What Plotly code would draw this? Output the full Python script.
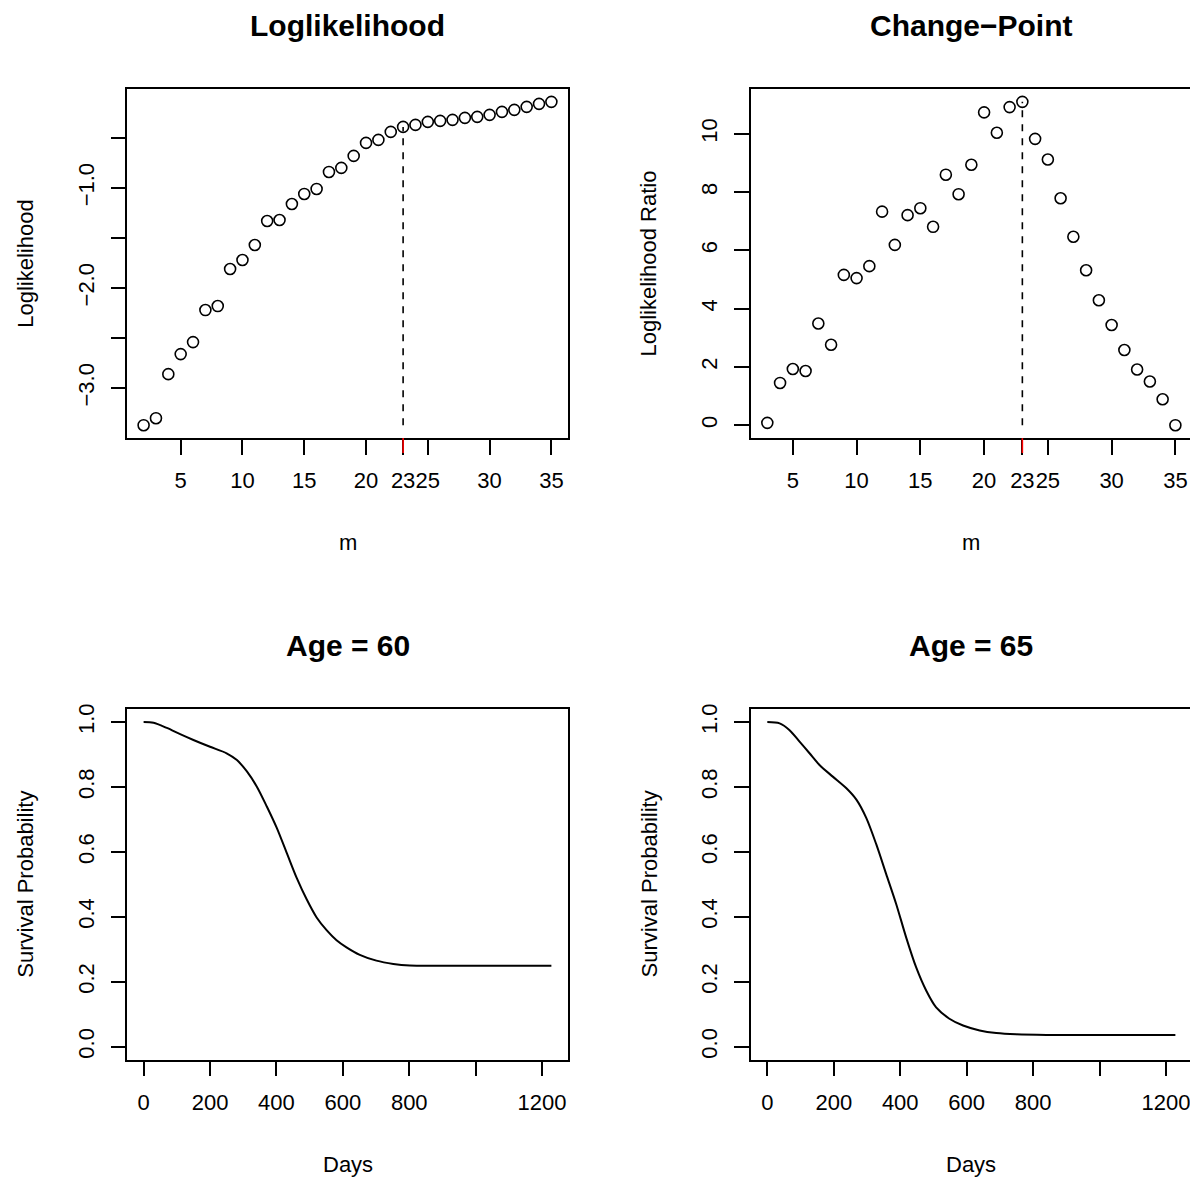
import plotly.graph_objects as go

W, H = 1198, 1182
OFF = 8                     # default body margin of the html page
PW, PH = W - OFF, H - OFF

# ---------------- data ----------------
m_ll = list(range(2, 36))
loglik = [-3.37, -3.30, -2.86, -2.66, -2.54, -2.22, -2.18, -1.81, -1.72, -1.57,
          -1.33, -1.32, -1.16, -1.06, -1.01, -0.84, -0.80, -0.68, -0.55, -0.52,
          -0.44, -0.39, -0.37, -0.34, -0.33, -0.32, -0.30, -0.29, -0.27, -0.24,
          -0.22, -0.19, -0.16, -0.14]

m_lr = list(range(3, 36))
llratio = [0.08, 1.45, 1.93, 1.86, 3.49, 2.76, 5.16, 5.05, 5.46, 7.33,
           6.19, 7.21, 7.45, 6.81, 8.60, 7.93, 8.94, 10.74, 10.04, 10.92,
           11.10, 9.83, 9.12, 7.79, 6.47, 5.32, 4.29, 3.44, 2.58, 1.91,
           1.50, 0.89, 0.00]

change_point = 23

days60 = [0, 30, 70, 110, 150, 200, 250, 281, 311, 341, 371, 401, 431, 461,
          491, 521, 551, 581, 611, 651, 701, 752, 802, 872, 1000, 1228]
surv60 = [1.000, 0.998, 0.982, 0.963, 0.945, 0.924, 0.904, 0.883, 0.848, 0.801,
          0.740, 0.674, 0.597, 0.520, 0.454, 0.398, 0.359, 0.328, 0.306, 0.283,
          0.265, 0.255, 0.250, 0.249, 0.249, 0.249]

days65 = [0, 37, 67, 97, 127, 157, 197, 238, 268, 298, 328, 358, 388, 418,
          448, 478, 508, 548, 589, 639, 689, 749, 840, 1000, 1228]
surv65 = [1.000, 0.996, 0.975, 0.940, 0.904, 0.868, 0.832, 0.796, 0.761, 0.704,
          0.623, 0.531, 0.439, 0.336, 0.244, 0.173, 0.121, 0.086, 0.065, 0.050,
          0.042, 0.038, 0.036, 0.036, 0.036]

m_ticks = [5, 10, 15, 20, 23, 25, 30, 35]
m_ticktext = ["5", "10", "15", "20", "23", "25", "30", "35"]
ll_ticks = [-3.0, -2.5, -2.0, -1.5, -1.0, -0.5]
ll_ticktext = ["\u22123.0", "", "\u22122.0", "", "\u22121.0", ""]
lr_ticks = [0, 2, 4, 6, 8, 10]
lr_ticktext = ["0", "2", "4", "6", "8", "10"]
day_ticks = [0, 200, 400, 600, 800, 1000, 1200]
day_ticktext = ["0", "200", "400", "600", "800", "", "1200"]
surv_ticks = [0.0, 0.2, 0.4, 0.6, 0.8, 1.0]
surv_ticktext = ["0.0", "0.2", "0.4", "0.6", "0.8", "1.0"]

titles = ["Loglikelihood", "Change\u2212Point", "Age = 60", "Age = 65"]
xlabels = ["m", "m", "Days", "Days"]
ylabels = ["Loglikelihood", "Loglikelihood Ratio", "Survival Probability", "Survival Probability"]

# ---------------- helpers ----------------
FONT = "Liberation Sans, Arial, Helvetica, sans-serif"
TICK_SIZE = 22
TITLE_SIZE = 30


def rrange(vals):
    lo, hi = min(vals), max(vals)
    d = (hi - lo) * 0.04
    return [lo - d, hi + d]


def px(x):
    return (x - OFF) / PW


def py(y):
    return 1 - (y - OFF) / PH


# panel boxes in page pixels (left, right, top, bottom)
boxes = [
    (127.3, 567.7, 83.3, 434.3),
    (751.0, 1191.7, 83.3, 434.3),
    (127.3, 567.7, 706.7, 1059.0),
    (751.0, 1191.7, 706.7, 1059.0),
]

fig = go.Figure()

marker = dict(symbol="circle-open", size=11, color="black", line=dict(width=1.6, color="black"))

fig.add_trace(go.Scatter(x=m_ll, y=loglik, mode="markers", marker=marker,
                         xaxis="x", yaxis="y", showlegend=False))
cp_i = m_ll.index(change_point)
fig.add_trace(go.Scatter(x=[change_point, change_point], y=[min(loglik), loglik[cp_i]],
                         mode="lines", line=dict(color="black", width=1.6, dash="7px,7px"),
                         xaxis="x", yaxis="y", showlegend=False))

fig.add_trace(go.Scatter(x=m_lr, y=llratio, mode="markers", marker=marker,
                         xaxis="x2", yaxis="y2", showlegend=False))
cp_j = m_lr.index(change_point)
fig.add_trace(go.Scatter(x=[change_point, change_point], y=[0, llratio[cp_j]],
                         mode="lines", line=dict(color="black", width=1.6, dash="7px,7px"),
                         xaxis="x2", yaxis="y2", showlegend=False))

fig.add_trace(go.Scatter(x=days60, y=surv60, mode="lines",
                         line=dict(color="black", width=2, shape="spline", smoothing=0.8),
                         xaxis="x3", yaxis="y3", showlegend=False))
fig.add_trace(go.Scatter(x=days65, y=surv65, mode="lines",
                         line=dict(color="black", width=2, shape="spline", smoothing=0.8),
                         xaxis="x4", yaxis="y4", showlegend=False))

axcommon = dict(showgrid=False, zeroline=False, showline=True, mirror=True,
                linecolor="black", linewidth=1.5, ticks="outside", ticklen=15,
                tickwidth=1.5, tickcolor="black",
                tickfont=dict(family=FONT, size=TICK_SIZE, color="black"),
                tickmode="array", fixedrange=True)

xr = [rrange(m_ll), rrange(m_lr), rrange(days60), rrange(days65)]
yr = [rrange(loglik), rrange([0] + llratio), [-0.04, 1.04], [-0.04, 1.04]]
xt = [(m_ticks, m_ticktext), (m_ticks, m_ticktext), (day_ticks, day_ticktext), (day_ticks, day_ticktext)]
yt = [(ll_ticks, ll_ticktext), (lr_ticks, lr_ticktext), (surv_ticks, surv_ticktext), (surv_ticks, surv_ticktext)]

layout = dict(width=PW, height=PH, margin=dict(l=0, r=0, t=0, b=0),
              plot_bgcolor="white", paper_bgcolor="white", showlegend=False)
for i, b in enumerate(boxes):
    s = "" if i == 0 else str(i + 1)
    layout["xaxis" + s] = dict(axcommon, domain=[px(b[0]), px(b[1])], range=xr[i],
                               anchor="y" + s, tickvals=xt[i][0], ticktext=xt[i][1],
                               tickangle=0, ticklabelstandoff=7)
    layout["yaxis" + s] = dict(axcommon, domain=[py(b[3]), py(b[2])], range=yr[i],
                               anchor="x" + s, tickvals=yt[i][0], ticktext=yt[i][1],
                               tickangle=-90, ticklabelstandoff=8)
fig.update_layout(**layout)

# red tick at the change point
for s, b in (("", boxes[0]), ("2", boxes[1])):
    h = b[3] - b[2]
    fig.add_shape(type="line", xref="x" + s, yref="y" + s + " domain",
                  x0=change_point, x1=change_point, y0=0, y1=-15 / h,
                  line=dict(color="red", width=1.6), layer="above")

# titles and axis labels
ann = []
for i, b in enumerate(boxes):
    cx = (b[0] + b[1]) / 2
    cy = (b[2] + b[3]) / 2
    ann.append(dict(text="<b>" + titles[i] + "</b>", x=px(cx), y=py(b[2] - 64),
                    xref="paper", yref="paper", showarrow=False,
                    xanchor="center", yanchor="middle",
                    font=dict(family=FONT, size=TITLE_SIZE, color="black")))
    ann.append(dict(text=xlabels[i], x=px(cx), y=py(b[3] + 105),
                    xref="paper", yref="paper", showarrow=False,
                    xanchor="center", yanchor="middle",
                    font=dict(family=FONT, size=TICK_SIZE, color="black")))
    ann.append(dict(text=ylabels[i], x=px(b[0] - 102), y=py(cy),
                    xref="paper", yref="paper", showarrow=False, textangle=-90,
                    xanchor="center", yanchor="middle",
                    font=dict(family=FONT, size=TICK_SIZE, color="black")))
fig.update_layout(annotations=ann)

fig.write_html("out.html")
